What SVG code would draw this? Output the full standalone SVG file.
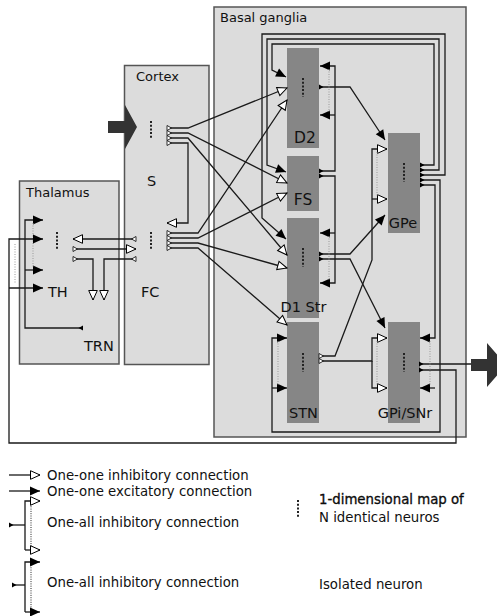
<svg xmlns="http://www.w3.org/2000/svg" width="497" height="616" viewBox="0 0 497 616">
<style>
.region{fill:#dcdcdc;stroke:#555;stroke-width:1.5}
.pop{fill:#868686}
.t{font-family:"DejaVu Sans","Liberation Sans",sans-serif;fill:#111}
.title{font-size:13px}
.lbl{font-size:14.5px}
.plbl{font-size:15.5px}
.leg{font-size:13.3px}
.dots{stroke:#222;stroke-width:2;stroke-dasharray:2 1.7;fill:none}
.c{fill:none;stroke:#1a1a1a;stroke-width:1.3}
.dot{fill:none;stroke:#999;stroke-width:1;stroke-dasharray:1 1.5}
.dotk{fill:none;stroke:#222;stroke-width:1;stroke-dasharray:1 1.3}
.big{fill:#333}
</style>
<defs>
<marker id="ex" viewBox="-1 -6 12 12" markerWidth="12" markerHeight="12" refX="10" refY="0" orient="auto" markerUnits="userSpaceOnUse"><path d="M0,-4.5 L10,0 L0,4.5 z" fill="#000"/></marker>
<marker id="in" viewBox="-1 -6 12 12" markerWidth="12" markerHeight="12" refX="9.5" refY="0" orient="auto" markerUnits="userSpaceOnUse"><path d="M0,-4.3 L9.5,0 L0,4.3 z" fill="#fff" stroke="#000" stroke-width="1"/></marker>
<marker id="sf" viewBox="-1 -4 7 8" markerWidth="7" markerHeight="8" refX="0" refY="0" orient="auto" markerUnits="userSpaceOnUse"><path d="M0,-2.5 L4.5,0 L0,2.5 z" fill="#000"/></marker>
<marker id="sh" viewBox="-1 -4 7 8" markerWidth="7" markerHeight="8" refX="0" refY="0" orient="auto" markerUnits="userSpaceOnUse"><path d="M0,-2.5 L4.5,0 L0,2.5 z" fill="#fff" stroke="#000" stroke-width="0.8"/></marker>
</defs>
<rect width="497" height="616" fill="#fff"/>

<g id="thalamus">
<rect class="region" x="19.5" y="181" width="99.5" height="183"/>
<text class="t title" x="26" y="197">Thalamus</text>
</g>
<g id="cortex">
<rect class="region" x="124.5" y="65.5" width="84.5" height="299"/>
<text class="t title" x="136" y="81">Cortex</text>
</g>
<g id="basal-ganglia">
<rect class="region" x="214" y="7" width="252" height="430"/>
<text class="t title" x="220" y="22">Basal ganglia</text>
</g>

<g id="S">
<line class="dots" x1="151" y1="121" x2="151" y2="139"/>
<text class="t lbl" x="147" y="186">S</text>
</g>
<g id="FC">
<line class="dots" x1="151" y1="232" x2="151" y2="250"/>
<text class="t lbl" x="141" y="297">FC</text>
</g>
<g id="TH">
<line class="dots" x1="57" y1="232" x2="57" y2="250"/>
<text class="t lbl" x="48" y="297">TH</text>
</g>
<g id="TRN">
<text class="t lbl" x="84" y="351">TRN</text>
</g>
<g id="D2">
<rect class="pop" x="287" y="48" width="32" height="100"/>
<line class="dots" x1="303" y1="78" x2="303" y2="97"/>
<text class="t plbl" x="305" y="143" text-anchor="middle">D2</text>
</g>
<g id="FS">
<rect class="pop" x="287" y="156" width="32" height="55"/>
<text class="t plbl" x="303" y="205" text-anchor="middle">FS</text>
</g>
<g id="D1">
<rect class="pop" x="287" y="218" width="32" height="100"/>
<line class="dots" x1="303" y1="248" x2="303" y2="267"/>
<text class="t lbl" x="303.5" y="312" text-anchor="middle">D1 Str</text>
</g>
<g id="STN">
<rect class="pop" x="287" y="322" width="32" height="101"/>
<line class="dots" x1="303" y1="353" x2="303" y2="372"/>
<text class="t lbl" x="303.5" y="418" text-anchor="middle">STN</text>
</g>
<g id="GPe">
<rect class="pop" x="388" y="133" width="32" height="100"/>
<line class="dots" x1="404" y1="163" x2="404" y2="182"/>
<text class="t lbl" x="403" y="228" text-anchor="middle">GPe</text>
</g>
<g id="GPi">
<rect class="pop" x="388" y="322" width="32" height="101"/>
<line class="dots" x1="404" y1="353" x2="404" y2="372"/>
<text class="t lbl" x="405" y="418" text-anchor="middle">GPi/SNr</text>
</g>

<g id="input-arrow">
<path class="big" d="M108,121 H125 V105 L137,127 L125,149 V133 H108 z"/>
</g>
<g id="output-arrow">
<path class="big" d="M471,359 H487 V343 L506,365 L487,387 V371 H471 z"/>
</g>

<g id="connectors">
<path class="c" d="M167,128 H188 L287,88" marker-start="url(#sh)" marker-end="url(#in)"/>
<path class="c" d="M167,133 H188 L287,183" marker-start="url(#sh)" marker-end="url(#in)"/>
<path class="c" d="M167,138 H188 L287,255" marker-start="url(#sh)" marker-end="url(#in)"/>
<path class="c" d="M167,143 H188 V223 H167" marker-start="url(#sh)" marker-end="url(#in)"/>
<path class="c" d="M167,233 H198 L287,100" marker-start="url(#sh)" marker-end="url(#in)"/>
<path class="c" d="M167,238 H198 L287,193" marker-start="url(#sh)" marker-end="url(#in)"/>
<path class="c" d="M167,243 H198 L287,268" marker-start="url(#sh)" marker-end="url(#in)"/>
<path class="c" d="M167,248 H198 L287,325" marker-start="url(#sh)" marker-end="url(#in)"/>
<path class="c" d="M136,239 H73" marker-start="url(#sh)" marker-end="url(#in)"/>
<path class="c" d="M73,249 H136" marker-start="url(#sh)" marker-end="url(#in)"/>
<path class="c" d="M73,259 H93 V300" marker-start="url(#sh)" marker-end="url(#in)"/>
<path class="c" d="M136,259 H104 V300" marker-start="url(#sh)" marker-end="url(#in)"/>
<path class="c" d="M83,328 H25 V220 H43" marker-start="url(#sf)" marker-end="url(#ex)"/>
<path class="c" d="M25,270 H43" marker-end="url(#ex)"/>
<line class="dot" x1="33" y1="223" x2="33" y2="267"/>
<path class="c" d="M419,370 H456 V443 H9 V239 H43" marker-start="url(#sf)" marker-end="url(#ex)"/>
<path class="c" d="M9,288 H43" marker-end="url(#ex)"/>
<line class="dot" x1="15" y1="244" x2="15" y2="283"/>
<path class="c" d="M419,364 H471" marker-start="url(#sf)"/>
<path class="c" d="M319,87 H350 L385,140" marker-start="url(#sf)" marker-end="url(#ex)"/>
<path class="c" d="M319,254 H350 L385,215" marker-start="url(#sf)" marker-end="url(#ex)"/>
<path class="c" d="M319,259 H350 L385,328" marker-start="url(#sf)" marker-end="url(#ex)"/>
<path class="c" d="M319,171 H335 V66 H320" marker-start="url(#sf)" marker-end="url(#ex)"/>
<path class="c" d="M335,115 H320" marker-end="url(#ex)"/>
<line class="dot" x1="329" y1="69" x2="329" y2="112"/>
<path class="c" d="M319,176 H335 V283 H320" marker-start="url(#sf)" marker-end="url(#ex)"/>
<path class="c" d="M335,233 H320" marker-end="url(#ex)"/>
<line class="dot" x1="329" y1="236" x2="329" y2="280"/>
<path class="c" d="M319,356 H335 L372,260 V149 H387" marker-start="url(#sh)" marker-end="url(#in)"/>
<path class="c" d="M372,199 H387" marker-end="url(#in)"/>
<line class="dot" x1="377" y1="152" x2="377" y2="196"/>
<path class="c" d="M319,361 H372 V338 H387" marker-start="url(#sh)" marker-end="url(#in)"/>
<path class="c" d="M372,361 V388 H387" marker-end="url(#in)"/>
<line class="dot" x1="377" y1="341" x2="377" y2="385"/>
<path class="c" d="M420,165 H434 V44 H272 V70 L286,77" marker-start="url(#sf)" marker-end="url(#ex)"/>
<path class="c" d="M420,170 H439 V39 H267 V165 L286,172" marker-start="url(#sf)" marker-end="url(#ex)"/>
<path class="c" d="M420,175 H445 V34 H262 V218 L286,239" marker-start="url(#sf)" marker-end="url(#ex)"/>
<path class="c" d="M420,180 H440 V432 H272 V338 H287" marker-start="url(#sf)" marker-end="url(#ex)"/>
<path class="c" d="M272,388 H287" marker-end="url(#ex)"/>
<line class="dot" x1="278" y1="341" x2="278" y2="385"/>
<path class="c" d="M420,185 H435 V338 H420" marker-start="url(#sf)" marker-end="url(#ex)"/>
<path class="c" d="M435,388 H420" marker-end="url(#ex)"/>
<line class="dot" x1="430" y1="341" x2="430" y2="385"/>
</g>

<g id="legend">
<path class="c" d="M9,475 H40" marker-end="url(#in)"/>
<text class="t leg" x="47" y="480">One-one inhibitory connection</text>
<path class="c" d="M9,491 H40" marker-end="url(#ex)"/>
<text class="t leg" x="47" y="496">One-one excitatory connection</text>
<path class="c" d="M9,525 H25" marker-start="url(#sf)"/>
<path class="c" d="M25,550 V501 H40" marker-end="url(#in)"/>
<path class="c" d="M25,550 H40" marker-end="url(#in)"/>
<line class="dotk" x1="31" y1="504" x2="31" y2="547"/>
<text class="t leg" x="47" y="527">One-all inhibitory connection</text>
<path class="c" d="M12,585 H25" marker-start="url(#sf)"/>
<path class="c" d="M25,612 V562 H40" marker-end="url(#ex)"/>
<path class="c" d="M25,612 H40" marker-end="url(#ex)"/>
<line class="dotk" x1="31" y1="565" x2="31" y2="609"/>
<text class="t leg" x="47" y="587">One-all inhibitory connection</text>
<line class="dots" x1="298" y1="500" x2="298" y2="518"/>
<text class="t leg" x="319" y="504" fill="#000" stroke="#000" stroke-width="0.3">1-dimensional map of</text>
<text class="t leg" x="319" y="522">N identical neuros</text>
<text class="t leg" x="319" y="589">Isolated neuron</text>
</g>
</svg>
